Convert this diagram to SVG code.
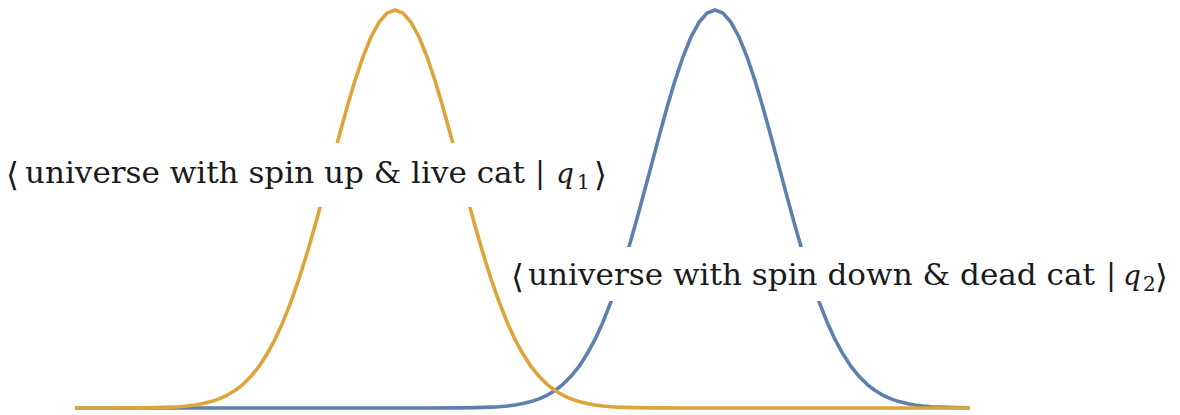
<svg xmlns="http://www.w3.org/2000/svg" width="1180" height="415" viewBox="0 0 1180 415">
<style>
.curve{fill:none;stroke-width:3.6;stroke-linejoin:round;stroke-linecap:butt}
.orange{stroke:#DDA43A}
.blue{stroke:#5E80AC}
.mask{fill:#ffffff}
.lbl{font-family:'DejaVu Serif',serif;font-size:30px;fill:#1a1a1a}
.br{font-family:'DejaVu Serif',serif;font-size:33px;fill:#1a1a1a}
.it{font-style:italic;font-size:28px}
.sub{font-size:20px}
</style>
<rect width="1180" height="415" fill="#ffffff"/>
<g id="connectors">
<polyline id="curve-blue" class="curve blue" points="75,408 427,408 459,407.9 475,407.65 491,407.1 499,406.7 507,406 515,405 523,403.6 531,401.6 539,398.9 547,395.3 555,390.5 563,384.3 571,376.3 579,366.4 587,354.1 595,339.4 603,321.9 611,301.7 619,278.8 627,253.4 635,225.8 643,196.6 651,166.6 659,136.6 667,107.6 675,80.6 683,56.8 691,37 699,22.3 707,13.1 715,10 723,13.1 731,22.3 739,37 747,56.8 755,80.6 763,107.6 771,136.6 779,166.6 787,196.6 795,225.8 803,253.4 811,278.8 819,301.7 827,321.9 835,339.4 843,354.1 851,366.4 859,376.3 867,384.3 875,390.5 883,395.3 891,398.9 899,401.6 907,403.6 915,405 923,406 931,406.7 939,407.1 955,407.65 970,407.85"/>
<polyline id="curve-orange" class="curve orange" points="75,408 107,408 139,407.9 155,407.65 171,407.1 179,406.7 187,406 195,405 203,403.6 211,401.6 219,398.9 227,395.3 235,390.5 243,384.3 251,376.3 259,366.4 267,354.1 275,339.4 283,321.9 291,301.7 299,278.8 307,253.4 315,225.8 323,196.6 331,166.6 339,136.6 347,107.6 355,80.6 363,56.8 371,37 379,22.3 387,13.1 395,10 403,13.1 411,22.3 419,37 427,56.8 435,80.6 443,107.6 451,136.6 459,166.6 467,196.6 475,225.8 483,253.4 491,278.8 499,301.7 507,321.9 515,339.4 523,354.1 531,366.4 539,376.3 547,384.3 555,390.5 563,395.3 571,398.9 579,401.6 587,403.6 595,405 603,406 611,406.7 619,407.1 635,407.65 651,407.9 683,408 970,408"/>
</g>
<g id="label-q1">
<rect class="mask" x="0" y="143" width="616" height="64"/>
<text class="br" x="6" y="186">⟨</text>
<text class="lbl" x="25" y="183" textLength="500" lengthAdjust="spacingAndGlyphs">universe with spin up &amp; live cat</text>
<text class="lbl" x="535" y="183">|</text>
<text class="lbl it" x="556" y="183">q</text>
<text class="lbl sub" x="577" y="189">1</text>
<text class="br" x="594" y="186">⟩</text>
</g>
<g id="label-q2">
<rect class="mask" x="507" y="247" width="673" height="54"/>
<text class="br" x="511" y="288">⟨</text>
<text class="lbl" x="528" y="285" textLength="567" lengthAdjust="spacingAndGlyphs">universe with spin down &amp; dead cat</text>
<text class="lbl" x="1106" y="285">|</text>
<text class="lbl it" x="1123" y="285">q</text>
<text class="lbl sub" x="1143" y="291">2</text>
<text class="br" x="1155" y="288">⟩</text>
</g>
</svg>
